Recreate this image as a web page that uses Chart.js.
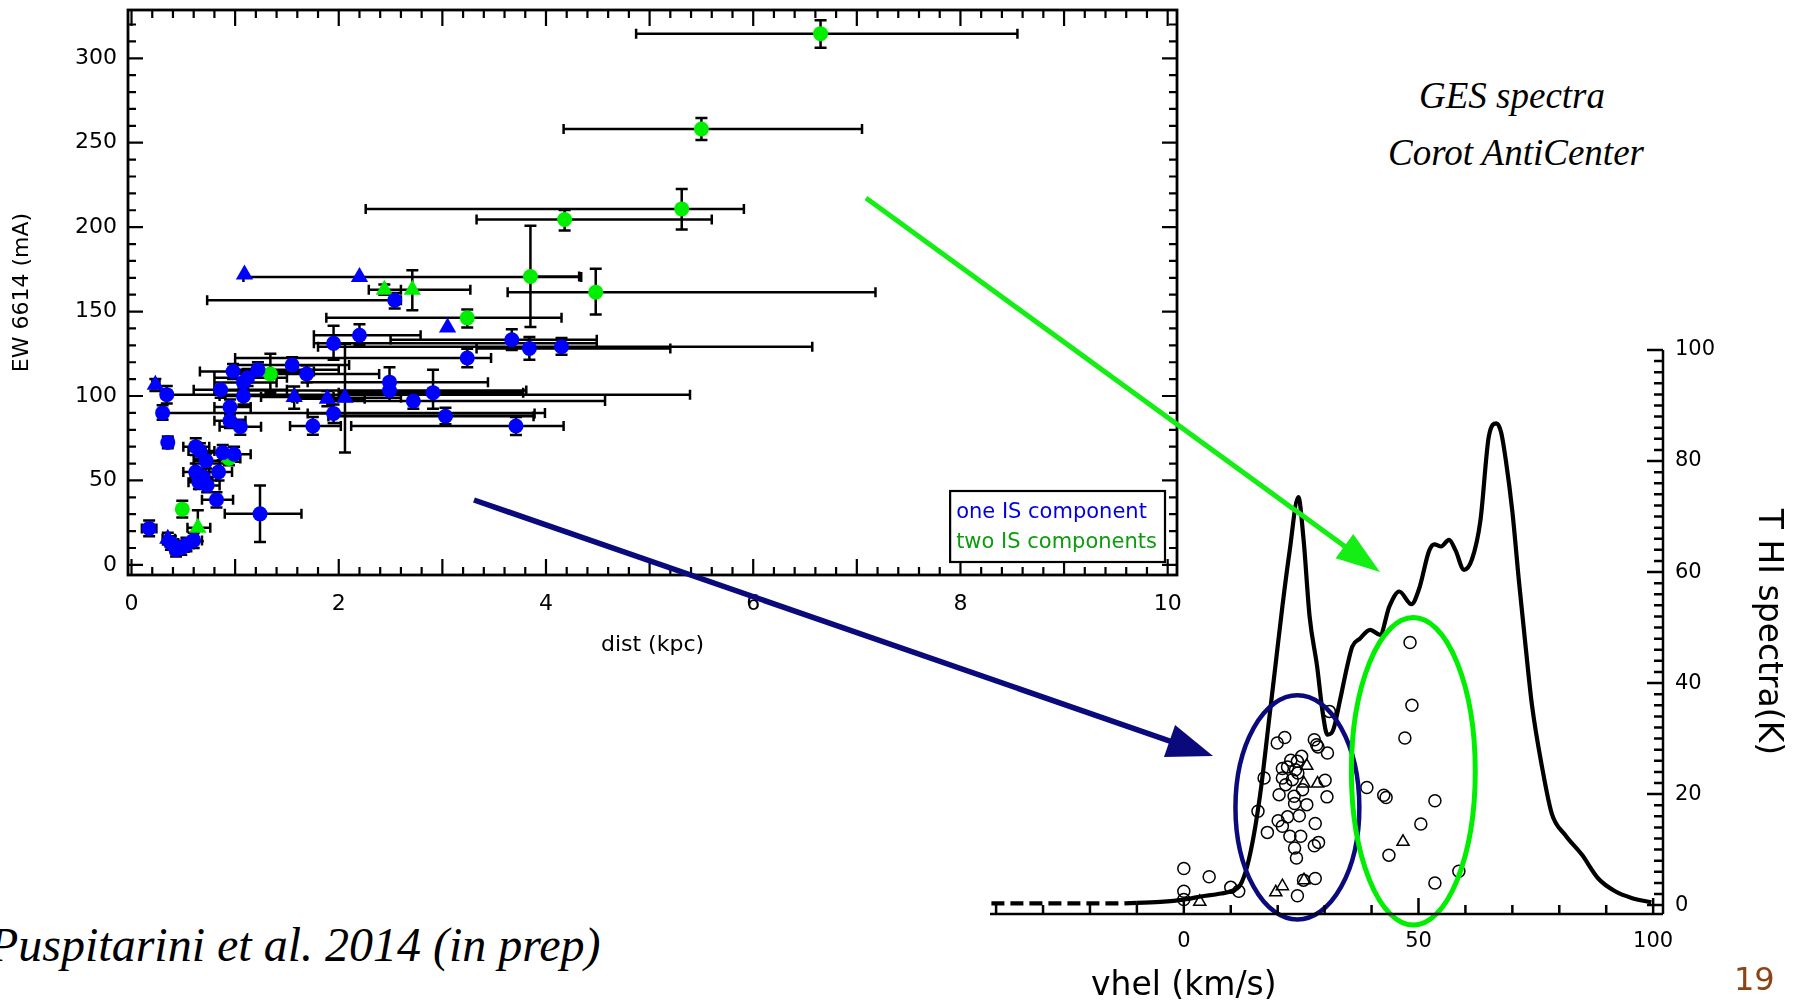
<!DOCTYPE html>
<html>
<head>
<meta charset="utf-8">
<script src="https://cdn.jsdelivr.net/npm/chart.js@4.4.1/dist/chart.umd.min.js"></script>
<style>
  html, body { margin: 0; padding: 0; background: #fff; }
  body { width: 1794px; height: 1008px; position: relative; overflow: hidden; font-family: 'DejaVu Sans', sans-serif; }
  .box { position: absolute; }
  .serif { position: absolute; font-family: 'Liberation Serif', serif; font-style: italic; color: #000; white-space: nowrap; line-height: 1; }
</style>
</head>
<body>
<div class="box" style="left:0;top:0;width:1200px;height:680px"><canvas id="ewChart"></canvas></div>
<div class="box" style="left:940px;top:320px;width:854px;height:688px"><canvas id="hiChart"></canvas></div>
<div class="serif" style="left:1512px;top:95px;font-size:37px;transform:translate(-50%,-50%)">GES spectra</div>
<div class="serif" style="left:1516px;top:152px;font-size:37px;transform:translate(-50%,-50%)">Corot AntiCenter</div>
<div class="serif" style="left:-11px;top:921px;font-size:48px">Puspitarini et al. 2014 (in prep)</div>
<div style="position:absolute;left:1734px;top:963px;font-size:32px;line-height:1;color:#8b4513">19</div>
<svg id="arrows" width="1794" height="1008" style="position:absolute;left:0;top:0;pointer-events:none"></svg>
<script>
// Panneau gauche : EW 6614 en fonction de la distance
// chaque point : [dist, EW, distMin, distMax, EWmin, EWmax]
const oneDots = [
  [0.17, 21.6, 0.10, 0.24, 17, 26.3],
  [0.38, 13, 0.33, 0.45, 9, 17],
  [0.43, 9, 0.38, 0.50, 5, 13],
  [0.48, 10, 0.42, 0.55, 6, 14],
  [0.53, 12, 0.47, 0.60, 8, 16],
  [0.60, 14.5, 0.55, 0.68, 10, 19],
  [0.35, 72.5, 0.31, 0.40, 69, 76],
  [0.30, 90, 0.26, 3.99, 86, 94.5],
  [0.34, 100.8, 0.33, 5.39, 95.5, 106],
  [0.62, 70, 0.50, 0.75, 65, 75],
  [0.66, 67.5, 0.55, 0.80, 63, 72],
  [0.72, 61.6, 0.60, 0.85, 57, 66],
  [0.62, 55, 0.50, 0.75, 50, 60],
  [0.69, 52, 0.57, 0.82, 47, 57],
  [0.65, 49, 0.55, 0.78, 45, 53],
  [0.73, 47, 0.62, 0.85, 43, 51],
  [0.84, 55, 0.72, 0.97, 50, 60],
  [0.82, 38.6, 0.68, 0.98, 34, 43],
  [0.88, 66.5, 0.75, 1.00, 62, 71],
  [0.99, 65.5, 0.85, 1.15, 61, 70],
  [1.24, 30.2, 0.90, 1.64, 13.5, 47],
  [0.86, 103.7, 0.60, 1.50, 99, 108],
  [0.95, 93.5, 0.80, 1.15, 89, 98],
  [0.95, 85.3, 0.80, 1.10, 81, 90],
  [1.05, 81.8, 0.85, 1.25, 77, 86],
  [1.08, 100, 0.85, 1.60, 95, 105],
  [0.98, 114.5, 0.66, 1.76, 110, 119],
  [1.08, 108, 0.80, 1.40, 103, 113],
  [1.12, 110.8, 0.80, 1.50, 106, 116],
  [1.22, 115.5, 1.00, 2.00, 111, 120],
  [1.55, 118.4, 1.00, 2.10, 114, 123],
  [1.69, 113, 1.40, 2.39, 108, 118],
  [1.75, 82.2, 1.53, 2.02, 77, 87.6],
  [1.95, 131.2, 1.76, 4.49, 121.4, 141.6],
  [2.20, 136, 1.76, 2.79, 129.8, 142.5],
  [1.95, 89.6, 1.70, 3.89, 84, 95],
  [2.49, 108.2, 1.70, 3.44, 103, 117],
  [2.49, 103.3, 0.80, 3.81, 97, 110],
  [2.72, 97, 1.90, 4.57, 92.5, 101],
  [2.91, 102, 2.00, 3.78, 92.5, 115.5],
  [3.03, 88, 1.90, 3.88, 83.3, 93],
  [2.54, 156.7, 0.73, 2.60, 151.8, 161],
  [3.24, 122.5, 1.00, 3.47, 117, 128],
  [3.67, 133.3, 2.50, 4.49, 127.3, 139.6],
  [3.84, 128.2, 3.33, 5.20, 121.4, 135],
  [4.15, 129.2, 1.80, 6.57, 124.5, 134.3],
  [3.71, 82.2, 2.12, 4.17, 76.9, 87.6]
];
const oneTris = [
  [0.23, 106.7, 0.20, 0.27, 103, 110],
  [0.35, 15.5, 0.30, 0.42, 12, 19],
  [1.09, 172, 1.09, 1.09, 172, 172],
  [2.20, 170.5, 1.08, 4.34, 170.5, 170.5],
  [1.57, 99.4, 1.25, 1.95, 92.5, 105.7],
  [1.89, 98.4, 1.60, 2.25, 94, 103],
  [2.06, 99, 1.55, 2.60, 66.5, 131],
  [3.05, 140.6, 3.05, 3.05, 140.6, 140.6]
];
const twoDots = [
  [6.65, 314.6, 4.87, 8.55, 306.3, 322.5],
  [5.50, 258.1, 4.17, 7.05, 251.6, 264.6],
  [5.31, 210.8, 2.26, 5.91, 198.6, 222.6],
  [4.18, 204.5, 3.33, 5.60, 198, 210.2],
  [3.85, 170.8, 3.85, 4.32, 140.8, 200.9],
  [4.48, 161.5, 3.63, 7.18, 148.2, 175.3],
  [3.24, 146.3, 1.88, 4.15, 140.6, 151.3],
  [1.34, 113, 1.10, 1.70, 102, 125],
  [0.49, 33, 0.45, 0.53, 28, 38],
  [0.94, 63, 0.85, 1.05, 59, 67]
];
const twoTris = [
  [2.44, 163, 2.29, 2.60, 160, 166],
  [2.71, 163, 2.29, 3.27, 150.8, 174.5],
  [0.64, 22, 0.54, 0.76, 14, 32.4]
];
const distTicks = [0, 2, 4, 6, 8, 10];
const ewTicks = [0, 50, 100, 150, 200, 250, 300];
const legendLabels = ['one IS component', 'two IS components'];

// Panneau droit : spectre HI (vitesse heliocentrique, temperature)
const vhel = [-41, -35, -30, -25, -20, -15, -10, -5, 0, 4, 8, 10, 12, 13.5, 15, 16.5, 18, 19.5, 21, 22.5, 24.4,
  25.5, 26.8, 28.4, 29.6, 30.6, 31.8, 33.3, 34.8, 35.9, 37.5, 39.7, 41.8, 43.8, 45.9, 48.5, 50.1, 52.3, 53.4,
  54.8, 56.5, 57.9, 59.7, 61.4, 63.2, 65, 66.6, 67.6, 68.6, 70, 71.4, 72.8, 74.2, 76.3, 78.4, 81.3, 84.8,
  88.3, 91.9, 95.4, 99.6];
const tHI = [0.3, 0.3, 0.3, 0.3, 0.3, 0.3, 0.4, 0.6, 1.0, 1.6, 2.1, 2.5, 3.6, 7, 13, 21.4, 32.2, 43, 53.8, 63.5, 73.5,
  66, 52, 43, 34.6, 30.7, 31.5, 37, 43, 46.6, 48, 49.6, 48.7, 53.8, 56.5, 54.2, 56.9, 63.9, 65,
  64.6, 65.8, 63.9, 60.4, 62.3, 69.3, 84.5, 86.8, 85.2, 80.2, 70.9, 58.4, 46.8, 35.9, 25, 16.5, 12.6, 9.1,
  4.8, 2.5, 1.3, 0.5];
const vhelTicks = [0, 50, 100];
const tTicks = [0, 20, 40, 60, 80, 100];
// etoiles : [vhel, T]
const starCircles = [
  [0, 6.6], [5.4, 5.1], [0, 2.5], [0, 1.0], [10, 3.2], [11.7, 2.5],
  [21.5, 30.2], [19.9, 29.2], [27.8, 29.8], [28.3, 28.9], [28.6, 28.5], [30.6, 27.4], [25.1, 26.8],
  [22.8, 26.1], [24.2, 25.9], [21.0, 24.6], [22.1, 24.9], [23.8, 24.4], [24.3, 23.8], [17.1, 22.9],
  [21.0, 22.9], [23.1, 22.6], [21.7, 21.7], [30.1, 22.5], [25.3, 20.8], [20.3, 19.9], [23.5, 19.6],
  [30.5, 19.5], [23.6, 18.3], [26.2, 18.1], [15.8, 16.9], [24.6, 16.1], [22.1, 15.9], [20.1, 15.2],
  [21.0, 14.2], [28.0, 14.7], [17.8, 13.1], [22.6, 12.4], [24.9, 12.4], [28.7, 11.3], [27.8, 10.7],
  [23.6, 10.3], [24.0, 8.5], [28.0, 4.8], [25.5, 4.5], [24.2, 1.7], [31.0, 34.9],
  [39.0, 21.2], [42.6, 19.8], [43.1, 19.4], [43.7, 9.0],
  [48.2, 47.3], [48.6, 36], [47.1, 30.1], [53.5, 18.8], [50.5, 14.6], [53.5, 4.0], [58.6, 6.1]
];
const starTris = [
  [3.4, 0.6], [26.2, 25.1], [25.6, 21.9], [28.5, 21.9], [21.0, 3.4], [19.6, 2.3], [25.6, 4.5], [46.7, 11.4]
];
// zones entourees (centre et demi-axes en unites du graphe)
const zones = [
  { v: 24.2, t: 17.6, rv: 13.2, rt: 20.2 },
  { v: 48.9, t: 24.1, rv: 13.2, rt: 27.7 }
];

const blue = '#0000ff', green = '#00ee00', navy = '#0a0a7c', lime = '#14ee14';
const legendColors = ['#0000e0', '#0c9c0c'];
const zoneColors = [navy, '#00ee00'];

Chart.defaults.font.family = "'DejaVu Sans', sans-serif";
Chart.defaults.color = '#000';

function toPts(rows) {
  return rows.map(r => ({ x: r[0], y: r[1], xlo: r[2], xhi: r[3], ylo: r[4], yhi: r[5] }));
}
function seg(ctx, x1, y1, x2, y2) { ctx.moveTo(x1, y1); ctx.lineTo(x2, y2); }

// barres d'erreur, cadre, graduations, titres, legende
const ewDecor = {
  id: 'ewDecor',
  beforeDatasetsDraw(chart) {
    const { ctx, chartArea: a, scales: { x, y } } = chart;
    ctx.save();
    ctx.beginPath(); ctx.rect(a.left, a.top, a.right - a.left, a.bottom - a.top); ctx.clip();
    ctx.strokeStyle = '#000'; ctx.lineWidth = 2.5;
    ctx.beginPath();
    chart.data.datasets.forEach(ds => ds.data.forEach(p => {
      const px = x.getPixelForValue(p.x), py = y.getPixelForValue(p.y);
      if (p.xhi > p.xlo) {
        const l = x.getPixelForValue(p.xlo), r = x.getPixelForValue(p.xhi);
        seg(ctx, l, py, r, py); seg(ctx, l, py - 5, l, py + 5); seg(ctx, r, py - 5, r, py + 5);
      }
      if (p.yhi > p.ylo) {
        const t = y.getPixelForValue(p.yhi), b = y.getPixelForValue(p.ylo);
        seg(ctx, px, t, px, b); seg(ctx, px - 6, t, px + 6, t); seg(ctx, px - 6, b, px + 6, b);
      }
    }));
    ctx.stroke();
    ctx.restore();
  },
  afterDraw(chart) {
    const { ctx, chartArea: a, scales: { x, y } } = chart;
    ctx.save();
    ctx.strokeStyle = '#000'; ctx.lineWidth = 2.2;
    ctx.beginPath();
    for (let i = 0; i <= 50; i++) {
      const px = x.getPixelForValue(i * 0.2), L = i % 5 === 0 ? 16 : 8;
      seg(ctx, px, a.bottom, px, a.bottom - L); seg(ctx, px, a.top, px, a.top + L);
    }
    for (let v = 0; v <= 320; v += 10) {
      const py = y.getPixelForValue(v), L = v % 50 === 0 ? 15 : 8;
      seg(ctx, a.left, py, a.left + L, py); seg(ctx, a.right, py, a.right - L, py);
    }
    ctx.stroke();
    ctx.lineWidth = 2.8;
    ctx.strokeRect(a.left, a.top, a.right - a.left, a.bottom - a.top);

    ctx.fillStyle = '#000'; ctx.font = "22px 'DejaVu Sans'";
    ctx.textAlign = 'center'; ctx.textBaseline = 'middle';
    ctx.fillText('dist (kpc)', (a.left + a.right) / 2, a.bottom + 70);
    ctx.save();
    ctx.translate(22, (a.top + a.bottom) / 2); ctx.rotate(-Math.PI / 2);
    ctx.fillText('EW 6614 (mA)', 0, 0);
    ctx.restore();

    // legende dans le coin bas droit
    ctx.font = "21px 'DejaVu Sans'";
    const w = Math.max(...legendLabels.map(t => ctx.measureText(t).width)) + 14, h = 71;
    const bx = a.right - 12 - w, by = a.bottom - 13 - h;
    ctx.fillStyle = '#fff'; ctx.fillRect(bx, by, w, h);
    ctx.lineWidth = 2.2; ctx.strokeRect(bx, by, w, h);
    ctx.textAlign = 'left'; ctx.textBaseline = 'alphabetic';
    legendLabels.forEach((t, i) => { ctx.fillStyle = legendColors[i]; ctx.fillText(t, bx + 6, by + 27 + i * 30); });
    ctx.restore();
  }
};

const hiDecor = {
  id: 'hiDecor',
  afterDatasetsDraw(chart) {
    const { ctx, chartArea: a, scales: { x, y } } = chart;
    ctx.save();
    zones.forEach((z, i) => {
      const cx = x.getPixelForValue(z.v), cy = y.getPixelForValue(z.t);
      const rx = Math.abs(x.getPixelForValue(z.v + z.rv) - cx), ry = Math.abs(y.getPixelForValue(z.t + z.rt) - cy);
      ctx.beginPath(); ctx.ellipse(cx, cy, rx, ry, 0, 0, 2 * Math.PI);
      ctx.strokeStyle = zoneColors[i]; ctx.lineWidth = i === 0 ? 4.5 : 5; ctx.stroke();
    });
    ctx.strokeStyle = '#000'; ctx.lineWidth = 2.5;
    ctx.beginPath();
    seg(ctx, a.left, a.bottom, a.right, a.bottom);
    seg(ctx, a.right, a.bottom, a.right, a.top);
    for (let v = -40; v <= 100; v += 10) {
      const px = x.getPixelForValue(v), L = v % 50 === 0 ? 16 : 9;
      seg(ctx, px, a.bottom, px, a.bottom - L);
    }
    for (let t = 0; t <= 100; t += 2) {
      const py = y.getPixelForValue(t), L = t % 20 === 0 ? 16 : 9;
      seg(ctx, a.right, py, a.right - L, py);
    }
    ctx.stroke();

    ctx.fillStyle = '#000'; ctx.font = "33px 'DejaVu Sans'";
    ctx.textAlign = 'center'; ctx.textBaseline = 'middle';
    ctx.fillText('vhel (km/s)', x.getPixelForValue(0), a.bottom + 72);
    ctx.save();
    ctx.translate(a.right + 105, (a.top + a.bottom) / 2); ctx.rotate(Math.PI / 2);
    ctx.fillText('T HI spectra(K)', 0, 0);
    ctx.restore();
    ctx.restore();
  }
};

const noGrid = { display: false, drawTicks: false };

new Chart(document.getElementById('ewChart'), {
  type: 'scatter',
  data: {
    datasets: [
      { label: legendLabels[0], data: toPts(oneDots), pointStyle: 'circle', pointRadius: 7.5, backgroundColor: blue, borderWidth: 0 },
      { label: legendLabels[0], data: toPts(oneTris), pointStyle: 'triangle', pointRadius: 10, backgroundColor: blue, borderColor: blue, borderWidth: 0 },
      { label: legendLabels[1], data: toPts(twoDots), pointStyle: 'circle', pointRadius: 7.5, backgroundColor: green, borderWidth: 0 },
      { label: legendLabels[1], data: toPts(twoTris), pointStyle: 'triangle', pointRadius: 10, backgroundColor: green, borderColor: green, borderWidth: 0 }
    ]
  },
  options: {
    responsive: true, maintainAspectRatio: false, animation: false,
    layout: { padding: { left: 0, top: 9, right: 23, bottom: 0 } },
    plugins: { legend: { display: false }, tooltip: { enabled: false } },
    scales: {
      x: {
        type: 'linear', position: 'bottom', min: -0.034, max: 10.09, bounds: 'data',
        grid: noGrid, border: { display: false },
        ticks: { font: { size: 22 }, color: '#000', padding: 16, maxRotation: 0, autoSkip: false },
        afterBuildTicks: s => { s.ticks = distTicks.map(value => ({ value })); },
        afterFit: s => { s.height = 105; s.paddingLeft = 0; s.paddingRight = 0; }
      },
      y: {
        type: 'linear', position: 'left', min: -6, max: 328.6, bounds: 'data',
        grid: noGrid, border: { display: false },
        ticks: { font: { size: 22 }, color: '#000', padding: 11, autoSkip: false },
        afterBuildTicks: s => { s.ticks = ewTicks.map(value => ({ value })); },
        afterFit: s => { s.width = 128; s.paddingTop = 0; s.paddingBottom = 0; }
      }
    }
  },
  plugins: [ewDecor]
});

const dashEnd = -8;
new Chart(document.getElementById('hiChart'), {
  type: 'scatter',
  data: {
    datasets: [
      { data: starCircles.map(p => ({ x: p[0], y: p[1] })), pointStyle: 'circle', pointRadius: 6,
        backgroundColor: 'rgba(0,0,0,0)', borderColor: '#000', borderWidth: 1.5 },
      { data: starTris.map(p => ({ x: p[0], y: p[1] })), pointStyle: 'triangle', pointRadius: 7,
        backgroundColor: 'rgba(0,0,0,0)', borderColor: '#000', borderWidth: 1.5 },
      { type: 'line', data: vhel.map((v, i) => ({ x: v, y: tHI[i] })), borderColor: '#000', borderWidth: 4.2,
        pointRadius: 0, fill: false, cubicInterpolationMode: 'monotone',
        segment: { borderDash: c => (c.p1.parsed.x <= dashEnd ? [13, 6] : undefined) } }
    ]
  },
  options: {
    responsive: true, maintainAspectRatio: false, animation: false,
    layout: { padding: { left: 50, top: 30, right: 0, bottom: 0 } },
    plugins: { legend: { display: false }, tooltip: { enabled: false } },
    scales: {
      x: {
        type: 'linear', position: 'bottom', min: -41.3, max: 102.1, bounds: 'data',
        grid: noGrid, border: { display: false },
        ticks: { font: { size: 21 }, color: '#000', padding: 15, maxRotation: 0, autoSkip: false },
        afterBuildTicks: s => { s.ticks = vhelTicks.map(value => ({ value })); },
        afterFit: s => { s.height = 94; s.paddingLeft = 0; s.paddingRight = 0; }
      },
      y: {
        type: 'linear', position: 'right', min: -1.6, max: 100, bounds: 'data',
        grid: noGrid, border: { display: false },
        ticks: { font: { size: 21 }, color: '#000', padding: 12, autoSkip: false },
        afterBuildTicks: s => { s.ticks = tTicks.map(value => ({ value })); },
        afterFit: s => { s.width = 131; s.paddingTop = 0; s.paddingBottom = 0; }
      }
    }
  },
  plugins: [hiDecor]
});

// fleches entre les deux panneaux
const arrows = [
  { from: [866, 198], to: [1380, 572], color: lime, width: 5, head: [44, 15] },
  { from: [474, 500], to: [1213, 756], color: navy, width: 5.5, head: [46, 17] }
];
const svg = document.getElementById('arrows');
const NS = 'http://www.w3.org/2000/svg';
arrows.forEach(ar => {
  const [x1, y1] = ar.from, [x2, y2] = ar.to;
  const len = Math.hypot(x2 - x1, y2 - y1), ux = (x2 - x1) / len, uy = (y2 - y1) / len;
  const bx = x2 - ux * ar.head[0], by = y2 - uy * ar.head[0], w = ar.head[1];
  const line = document.createElementNS(NS, 'line');
  line.setAttribute('x1', x1); line.setAttribute('y1', y1);
  line.setAttribute('x2', bx + ux * 2); line.setAttribute('y2', by + uy * 2);
  line.setAttribute('stroke', ar.color); line.setAttribute('stroke-width', ar.width);
  svg.appendChild(line);
  const head = document.createElementNS(NS, 'polygon');
  head.setAttribute('points', `${x2},${y2} ${bx - uy * w},${by + ux * w} ${bx + uy * w},${by - ux * w}`);
  head.setAttribute('fill', ar.color);
  svg.appendChild(head);
});
</script>
</body>
</html>
